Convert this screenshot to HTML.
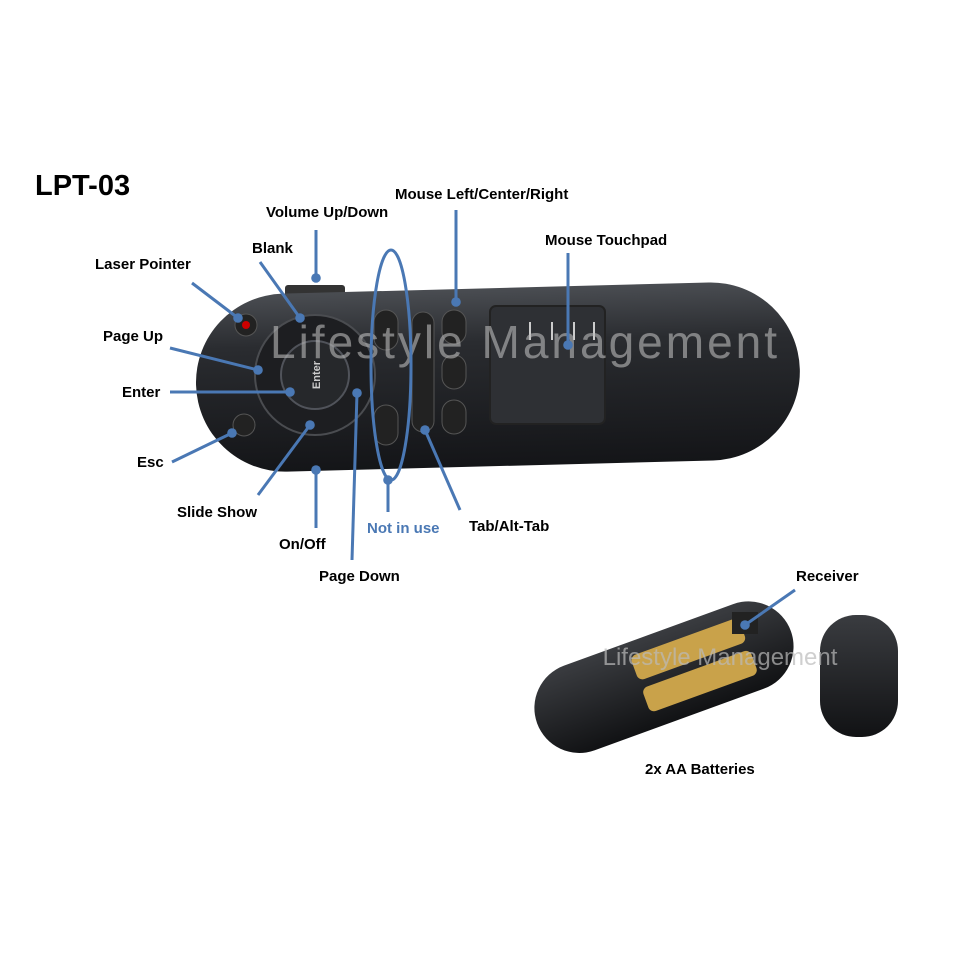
<!DOCTYPE html>
<html><head><meta charset="utf-8"><style>
body{margin:0;background:#fff;}
svg{display:block}
text{font-family:"Liberation Sans",sans-serif;font-weight:bold;}
text.wm{font-weight:normal;}
</style></head><body>
<svg width="960" height="960" viewBox="0 0 960 960" xmlns="http://www.w3.org/2000/svg">
<defs>
<marker id="d" markerWidth="4" markerHeight="4" refX="2" refY="2" markerUnits="strokeWidth"><circle cx="2" cy="2" r="1.6" fill="#4a78b4"/></marker>
<linearGradient id="g" x1="0" y1="0" x2="0" y2="1"><stop offset="0" stop-color="#4a4d52"/><stop offset="0.3" stop-color="#2a2c30"/><stop offset="1" stop-color="#141518"/></linearGradient>
<linearGradient id="g2" x1="0" y1="0" x2="0" y2="1"><stop offset="0" stop-color="#3a3c40"/><stop offset="1" stop-color="#111214"/></linearGradient>
</defs>
<rect width="960" height="960" fill="#fff"/>
<text x="35" y="195" font-size="29" fill="#000">LPT-03</text>
<rect x="285" y="285" width="60" height="12" rx="3" fill="#333"/>
<g transform="rotate(-1.5 500 380)">
<rect x="196" y="288" width="604" height="178" rx="89" fill="url(#g)"/>
</g>
<rect x="490" y="306" width="115" height="118" rx="6" fill="#2e3034" stroke="#222" stroke-width="2"/>
<g stroke="#ccc" stroke-width="2"><line x1="530" y1="322" x2="530" y2="340"/><line x1="552" y1="322" x2="552" y2="340"/><line x1="574" y1="322" x2="574" y2="340"/><line x1="594" y1="322" x2="594" y2="340"/></g>
<circle cx="315" cy="375" r="60" fill="#1d1e21" stroke="#4a4c50" stroke-width="2"/>
<circle cx="315" cy="375" r="34" fill="#26282b" stroke="#50535a" stroke-width="2"/>
<text x="315" y="380" font-size="11" fill="#ccc" transform="rotate(-90 315 375)" text-anchor="middle">Enter</text>
<circle cx="246" cy="325" r="11" fill="#222" stroke="#555"/><circle cx="246" cy="325" r="4" fill="#c00"/>
<circle cx="244" cy="425" r="11" fill="#222" stroke="#555"/>
<rect x="374" y="310" width="24" height="40" rx="12" fill="#222" stroke="#555"/>
<rect x="374" y="405" width="24" height="40" rx="12" fill="#222" stroke="#555"/>
<rect x="412" y="312" width="22" height="120" rx="11" fill="#222" stroke="#555"/>
<rect x="442" y="310" width="24" height="34" rx="12" fill="#222" stroke="#555"/>
<rect x="442" y="355" width="24" height="34" rx="12" fill="#222" stroke="#555"/>
<rect x="442" y="400" width="24" height="34" rx="12" fill="#222" stroke="#555"/>
<text class="wm" x="525" y="358" font-size="46" fill="#bbb" opacity="0.6" text-anchor="middle" letter-spacing="3">Lifestyle Management</text>
<g transform="rotate(-20 665 680)">
<rect x="530" y="632" width="270" height="90" rx="45" fill="url(#g2)"/>
<rect x="640" y="646" width="115" height="26" rx="6" fill="#c9a24a"/>
<rect x="640" y="680" width="115" height="26" rx="6" fill="#c9a24a"/>
</g>
<rect x="732" y="612" width="26" height="22" fill="#222"/>
<rect x="820" y="615" width="78" height="122" rx="36" fill="url(#g2)"/>
<text class="wm" x="720" y="665" font-size="24" fill="#bbb" opacity="0.7" text-anchor="middle">Lifestyle Management</text>
<g stroke="#4a78b4" stroke-width="3" fill="none" marker-end="url(#d)">
<line x1="316" y1="230" x2="316" y2="278"/>
<line x1="456" y1="210" x2="456" y2="302"/>
<line x1="568" y1="253" x2="568" y2="345"/>
<line x1="260" y1="262" x2="300" y2="318"/>
<line x1="192" y1="283" x2="238" y2="318"/>
<line x1="170" y1="348" x2="258" y2="370"/>
<line x1="170" y1="392" x2="290" y2="392"/>
<line x1="172" y1="462" x2="232" y2="433"/>
<line x1="258" y1="495" x2="310" y2="425"/>
<line x1="316" y1="528" x2="316" y2="470"/>
<line x1="352" y1="560" x2="357" y2="393"/>
<line x1="388" y1="512" x2="388" y2="480"/>
<line x1="460" y1="510" x2="425" y2="430"/>
<line x1="795" y1="590" x2="745" y2="625"/>
</g>
<ellipse cx="391" cy="365" rx="20" ry="115" fill="none" stroke="#4a78b4" stroke-width="3"/>
<g font-size="15" fill="#000">
<text x="266" y="217">Volume Up/Down</text>
<text x="395" y="199">Mouse Left/Center/Right</text>
<text x="545" y="245">Mouse Touchpad</text>
<text x="252" y="253">Blank</text>
<text x="95" y="269">Laser Pointer</text>
<text x="103" y="341">Page Up</text>
<text x="122" y="397">Enter</text>
<text x="137" y="467">Esc</text>
<text x="177" y="517">Slide Show</text>
<text x="279" y="549">On/Off</text>
<text x="367" y="533" fill="#4a78b4">Not in use</text>
<text x="469" y="531">Tab/Alt-Tab</text>
<text x="319" y="581">Page Down</text>
<text x="796" y="581">Receiver</text>
<text x="645" y="774">2x AA Batteries</text>
</g>
</svg>
</body></html>
